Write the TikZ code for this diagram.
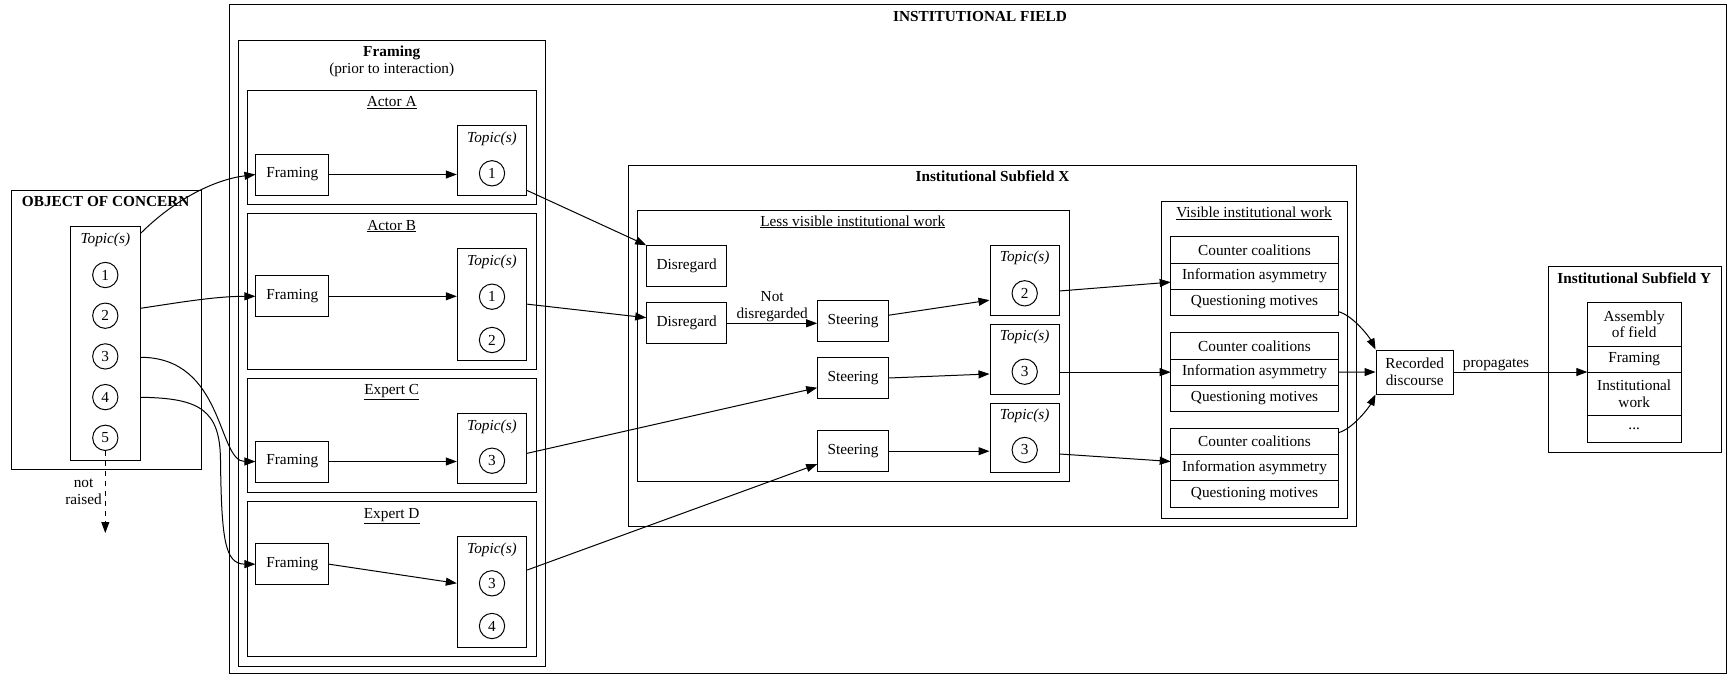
\documentclass[tikz,border=0pt]{standalone}
\usepackage{fontspec}
\setmainfont{Liberation Serif}
\usepackage{tikz}
\usetikzlibrary{positioning,fit,arrows.meta}
\tikzstyle{cluster} = [rectangle, draw=black, line width=1pt, inner sep=0pt]
\tikzstyle{heading} = [anchor=base]
\tikzstyle{process} = [rectangle, draw=black, line width=1pt, minimum height=41pt, text centered]
\tikzstyle{topic} = [circle, draw=black, line width=1pt, minimum size=25.3pt, inner sep=0pt]
\tikzstyle{cell} = [rectangle, draw=black, line width=1pt, outer sep=0pt, minimum width=167.6pt, minimum height=26.3pt, text centered, align=center]
\tikzstyle{arrow} = [line width=1pt,-{Triangle[length=11pt,width=8pt]}]

\begin{document}
\begin{tikzpicture}[x=1pt, y=-1pt, node distance=40.7pt, font=\fontsize{15.3pt}{16.8pt}\selectfont]
\useasboundingbox (0,0) rectangle (1727,675);

%field and object of concern
\node (field) [cluster, fit={(229,4.5) (1726,673)}] {};
\node (fieldlbl) [heading] at (980,21) {\textbf{INSTITUTIONAL FIELD}};
\node (ooc) [cluster, fit={(11.7,190) (201,469.3)}] {};
\node (ooclbl) [heading] at (105.7,206.7) {\textbf{OBJECT OF CONCERN}};
\node (topO) [cluster, fit={(70.7,226) (140,460)}] {};
\node (topOlbl) [heading] at (105.3,243.3) {\textit{Topic(s)}};
\node (num1) [topic] at (105.3,275) {1};
\node (num2) [topic, below of=num1] {2};
\node (num3) [topic, below of=num2] {3};
\node (num4) [topic, below of=num3] {4};
\node (num5) [topic, below of=num4] {5};
\coordinate (unraised) at (105.3,533);

%framing prior to interaction
\node (framing) [cluster, fit={(238.3,40) (545,666)}] {};
\node (framinglbl) [align=center] at (391.7,61) {\textbf{Framing}\\(prior to interaction)};

\node (actA) [cluster, fit={(247.3,90) (536,204)}] {};
\node (actAlbl) [heading] at (391.7,106.7) {\underline{Actor A}};
\node (fA) [process, minimum width=72.7pt] at (292.3,174.5) {Framing};
\node (topA) [cluster, fit={(457.3,125.7) (526.7,195)}] {};
\node (topAlbl) [heading] at (492,142) {\textit{Topic(s)}};
\node (numA1) [topic] at (492,173.3) {1};

\node (actB) [cluster, fit={(247.3,213.3) (536,369)}] {};
\node (actBlbl) [heading] at (391.7,230) {\underline{Actor B}};
\node (fB) [process, minimum width=72.7pt] at (292.3,296.3) {Framing};
\node (topB) [cluster, fit={(457.3,248.3) (526.7,360)}] {};
\node (topBlbl) [heading] at (492,265) {\textit{Topic(s)}};
\node (numB1) [topic] at (492,296.7) {1};
\node (numB2) [topic, node distance=43.3pt, below of=numB1] {2};

\node (expC) [cluster, fit={(247.3,378.3) (536,492)}] {};
\node (expClbl) [heading] at (391.7,394.3) {\underline{Expert C}};
\node (fC) [process, minimum width=72.7pt] at (292.3,461.5) {Framing};
\node (topC) [cluster, fit={(457.3,413.3) (526.7,483.3)}] {};
\node (topClbl) [heading] at (492,430) {\textit{Topic(s)}};
\node (numC3) [topic] at (492,460.7) {3};

\node (expD) [cluster, fit={(247.3,501.7) (536,656.7)}] {};
\node (expDlbl) [heading] at (391.7,518.3) {\underline{Expert D}};
\node (fD) [process, minimum width=72.7pt] at (292.3,564.2) {Framing};
\node (topD) [cluster, fit={(457.3,536.7) (526.7,647.3)}] {};
\node (topDlbl) [heading] at (492,553.3) {\textit{Topic(s)}};
\node (numD3) [topic] at (492,583.3) {3};
\node (numD4) [topic, node distance=42.7pt, below of=numD3] {4};

%institutional subfield X
\node (subX) [cluster, fit={(628.3,165) (1356.7,526.7)}] {};
\node (subXlbl) [heading] at (992.5,181) {\textbf{Institutional Subfield X}};
\node (less) [cluster, fit={(637.3,210) (1069,481.7)}] {};
\node (lesslbl) [heading] at (852.7,226) {\underline{Less visible institutional work}};
\node (disA) [process, minimum width=80pt] at (686.7,266.2) {Disregard};
\node (disB) [process, minimum width=80pt] at (686.7,323.3) {Disregard};
\node (steerA) [process, minimum width=70.6pt] at (853,321.2) {Steering};
\node (steerB) [process, minimum width=70.6pt] at (853,378) {Steering};
\node (steerC) [process, minimum width=70.6pt] at (853,451.2) {Steering};
\node (topX1) [cluster, fit={(990,245.3) (1059.3,315)}] {};
\node (topX1lbl) [heading] at (1024.7,261.7) {\textit{Topic(s)}};
\node (numX2) [topic] at (1024.7,293.3) {2};
\node (topX2) [cluster, fit={(990,324.3) (1059.3,394)}] {};
\node (topX2lbl) [heading] at (1024.7,340) {\textit{Topic(s)}};
\node (numX3) [topic] at (1024.7,371.7) {3};
\node (topX3) [cluster, fit={(990,403.3) (1059.3,472.7)}] {};
\node (topX3lbl) [heading] at (1024.7,419.3) {\textit{Topic(s)}};
\node (numX3b) [topic] at (1024.7,450) {3};

\node (vis) [cluster, fit={(1161,201) (1347.7,518.3)}] {};
\node (vislbl) [heading] at (1254,217.7) {\underline{Visible institutional work}};
\node (vA1) [cell] at (1254.5,249.85) {Counter coalitions};
\node (vA2) [cell, below=0pt of vA1] {Information asymmetry};
\node (vA3) [cell, below=0pt of vA2] {Questioning motives};
\node (vB1) [cell] at (1254.5,345.85) {Counter coalitions};
\node (vB2) [cell, below=0pt of vB1] {Information asymmetry};
\node (vB3) [cell, below=0pt of vB2] {Questioning motives};
\node (vC1) [cell] at (1254.5,441.45) {Counter coalitions};
\node (vC2) [cell, below=0pt of vC1] {Information asymmetry};
\node (vC3) [cell, below=0pt of vC2] {Questioning motives};

\node (rec) [process, minimum width=77.3pt, minimum height=44pt, align=center] at (1414.7,372) {Recorded\\discourse};

%institutional subfield Y
\node (subY) [cluster, fit={(1548.3,266) (1721,452.3)}] {};
\node (subYlbl) [heading] at (1634.3,283.3) {\textbf{Institutional Subfield Y}};
\node (yA) [cell, minimum width=93.7pt, minimum height=43.3pt] at (1634.2,324.35) {Assembly\\of field};
\node (yB) [cell, minimum width=93.7pt, below=0pt of yA] {Framing};
\node (yC) [cell, minimum width=93.7pt, minimum height=43.4pt, below=0pt of yB] {Institutional\\work};
\node (yD) [cell, minimum width=93.7pt, minimum height=26.6pt, below=0pt of yC] {...};

%connectors
\draw [arrow] ([yshift=-8pt]topO.north east) .. controls +(35,-35) and +(-40,5) .. (fA.west);
\draw [arrow] ([yshift=34.7pt]topO.east) .. controls +(40,-6) and +(-40,0) .. (fB.west);
\draw [arrow] ([yshift=-14.3pt]topO.east) .. controls +(84,0) and +(-38,0) .. (fC.west);
\draw [arrow] ([yshift=-54.3pt]topO.east) .. controls (200,398) and (220,410) .. (220.5,460) .. controls (221.5,540) and (225,564) .. (fD.west);
\draw [arrow, dash pattern=on 5pt off 5pt] (num5.south) -- node[left, inner sep=3pt, align=center] {not\\raised} (unraised);

\draw [arrow] (fA.east) -- (fA.east -| topA.west);
\draw [arrow] (fB.east) -- (fB.east -| topB.west);
\draw [arrow] (fC.east) -- (fC.east -| topC.west);
\draw [arrow] (fD.east) -- (topD.west |- numD3);

\draw [arrow] ([yshift=5pt]topA.south east) -- (disA.north west);
\draw [arrow] (topB.east) -- ([yshift=5.6pt]disB.west);
\draw [arrow] ([yshift=-5pt]topC.east) -- ([yshift=-9.7pt]steerB.west);
\draw [arrow] ([yshift=22pt]topD.east) -- ([yshift=-13pt]steerC.west);

\draw [arrow] (disB.east) -- node[above, inner sep=1pt, align=center] {Not\\disregarded} (disB.east -| steerA.west);
\draw [arrow] ([yshift=6pt]steerA.east) -- ([yshift=-20pt]topX1.west);
\draw [arrow] (steerB.east) -- ([yshift=-14.8pt]topX2.west);
\draw [arrow] (steerC.east) -- (steerC.east -| topX3.west);

\draw [arrow] ([yshift=-10.8pt]topX1.east) -- ([yshift=-6pt]vA2.west);
\draw [arrow] (vB2.west -| topX2.east) -- (vB2.west);
\draw [arrow] ([yshift=-16pt]topX3.east) -- ([yshift=6.3pt]vC2.west);

\draw [arrow] ([yshift=4pt]vA3.south east) .. controls +(15,4) and +(-6,-12) .. (rec.north west);
\draw [arrow] (vB2.east) -- (rec.west);
\draw [arrow] ([yshift=-4.4pt]vC1.north east) .. controls +(15,-4) and +(-6,12) .. (rec.south west);
\draw [arrow] (rec.east) -- node[pos=0.316, above, inner sep=1pt] {propagates} (rec.east -| yC.west);
\end{tikzpicture}
\end{document}
